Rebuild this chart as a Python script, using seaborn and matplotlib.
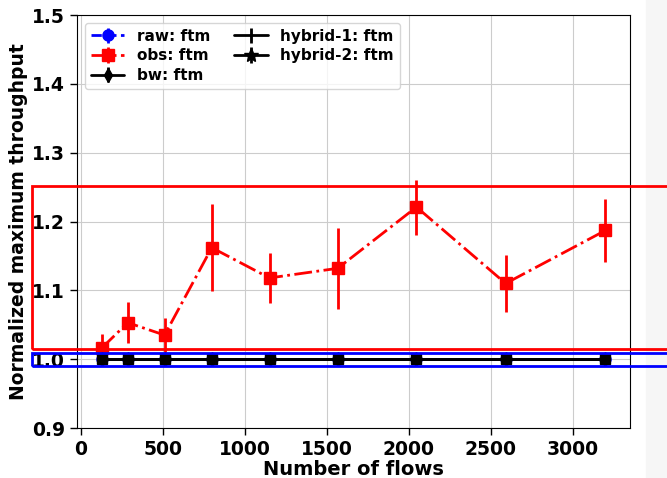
import numpy as np
import matplotlib
matplotlib.use("Agg")
import matplotlib.pyplot as plt
import matplotlib.transforms as mtransforms
from matplotlib.patches import Rectangle
import seaborn as sns

# data
flows = [128, 288, 512, 800, 1152, 1568, 2048, 2592, 3200]
obs_mean = [1.016, 1.053, 1.035, 1.162, 1.118, 1.132, 1.221, 1.110, 1.187]
obs_err = [0.020, 0.030, 0.025, 0.063, 0.036, 0.059, 0.040, 0.041, 0.046]
base_mean = [1.0] * 9
base_err = [0.0] * 9

labels = ["raw: ftm", "obs: ftm", "bw: ftm", "hybrid-1: ftm", "hybrid-2: ftm"]

# highlight boxes (y in data units)
red_box = (1.0145, 1.251)
blue_box = (0.990, 1.0087)

sns.set_style("whitegrid", {"axes.edgecolor": "black", "grid.color": "#cccccc",
                            "xtick.bottom": True, "ytick.left": True,
                            "text.color": "black", "axes.labelcolor": "black",
                            "xtick.color": "black", "ytick.color": "black"})
plt.rcParams["font.family"] = ["DejaVu Sans"]
plt.rcParams["font.weight"] = "bold"

fig = plt.figure(figsize=(6.67, 4.78), dpi=100)
ax = fig.add_axes([0.1154, 0.1046, 0.8291, 0.864])

ax.errorbar(flows, base_mean, yerr=base_err, color="blue", marker="o", ls="--",
            ms=8, lw=2, label=labels[0])
ax.errorbar(flows, obs_mean, yerr=obs_err, color="red", marker="s", ls="-.",
            ms=8, lw=2, elinewidth=2, label=labels[1])
ax.errorbar(flows, base_mean, yerr=base_err, color="black", marker="d", ls="-",
            ms=7, lw=2, label=labels[2])
ax.errorbar(flows, base_mean, yerr=base_err, color="black", marker="|", ls="-",
            ms=8, lw=2, label=labels[3])
ax.errorbar(flows, base_mean, yerr=base_err, color="black", marker="s", ls="-",
            ms=7, lw=1, label=labels[4])
# legend handle for hybrid-2 with star marker
handles, lbls = ax.get_legend_handles_labels()
star = ax.errorbar([], [], yerr=[], color="black", marker="*", ls="-", ms=10, lw=2)
handles[4] = star

ax.set_xlim(-22, 3350)
ax.set_ylim(0.9, 1.5)
ax.set_xticks([0, 500, 1000, 1500, 2000, 2500, 3000])
ax.set_yticks([0.9, 1.0, 1.1, 1.2, 1.3, 1.4, 1.5])
ax.tick_params(labelsize=13.5, length=5, width=1, color="black")
for t in ax.get_xticklabels() + ax.get_yticklabels():
    t.set_fontweight("bold")
ax.set_xlabel("Number of flows", fontsize=14, fontweight="bold", labelpad=1)
ax.set_ylabel("Normalized maximum throughput", fontsize=13.5, fontweight="bold", labelpad=3)

ax.legend(handles, lbls, loc="upper left", ncol=2, prop={"weight": "bold", "size": 11},
          handlelength=2.2, columnspacing=1.6, labelspacing=0.3, borderpad=0.4,
          frameon=True, fancybox=True)

# gray strip at the right edge of the screenshot
fig.patches.append(Rectangle((646 / 667, 0), 1, 1, transform=fig.transFigure,
                             color="#f6f6f6", zorder=-10))

trans = mtransforms.blended_transform_factory(fig.transFigure, ax.transData)
fig.add_artist(Rectangle((32 / 667, red_box[0]), 1.0, red_box[1] - red_box[0],
                         transform=trans, fill=False, ec="red", lw=2, clip_on=False))
fig.add_artist(Rectangle((32 / 667, blue_box[0]), 1.0, blue_box[1] - blue_box[0],
                         transform=trans, fill=False, ec="blue", lw=2, clip_on=False))

fig.savefig("out.png", dpi=100)
